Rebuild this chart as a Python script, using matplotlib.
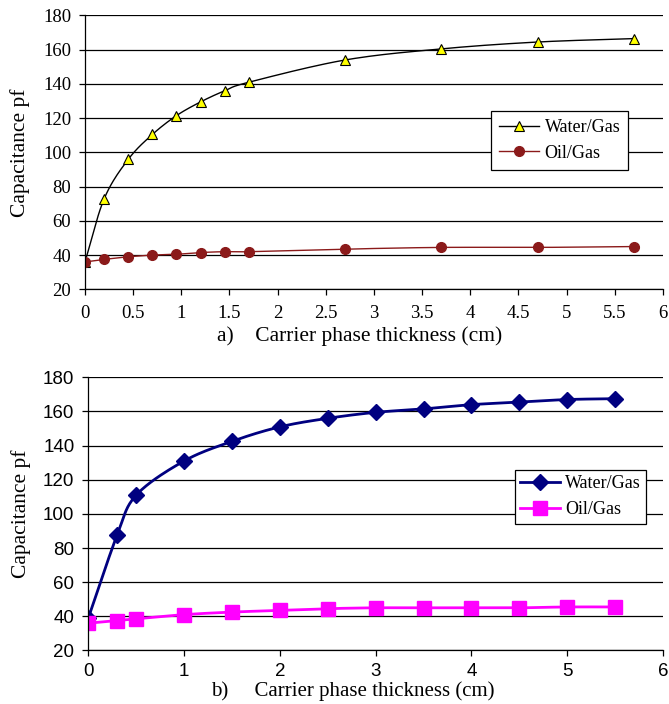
import matplotlib
matplotlib.use("Agg")
import matplotlib.pyplot as plt
import numpy as np

# (a) top panel
a_x = [0, 0.2, 0.45, 0.7, 0.95, 1.2, 1.45, 1.7, 2.7, 3.7, 4.7, 5.7]
a_water = [36, 73, 96, 110.5, 121.5, 129.5, 136, 141, 154, 160.5, 164.5, 166.5]
a_oil = [36, 37.5, 39, 40, 40.5, 41.5, 42, 42, 43.5, 44.5, 44.5, 45]

# (b) bottom panel
b_x = [0, 0.3, 0.5, 1, 1.5, 2, 2.5, 3, 3.5, 4, 4.5, 5, 5.5]
b_water = [39, 87.5, 111, 131, 142.5, 151, 156, 159.5, 161.5, 164, 165.5, 167, 167.5]
b_oil = [36, 37.5, 38.5, 41, 42.5, 43.5, 44.5, 45, 45, 45, 45, 45.5, 45.5]

a_ticks = ["0", "0.5", "1", "1.5", "2", "2.5", "3", "3.5", "4", "4.5", "5", "5.5", "6"]
b_ticks = ["0", "1", "2", "3", "4", "5", "6"]

SERIF = "Liberation Serif"
SANS = "Liberation Sans"


def smooth(x, y, n=20):
    """Catmull-Rom curve through the points, like Excel's smoothed line."""
    x = np.asarray(x, float)
    y = np.asarray(y, float)
    px = np.concatenate([[2 * x[0] - x[1]], x, [2 * x[-1] - x[-2]]])
    py = np.concatenate([[2 * y[0] - y[1]], y, [2 * y[-1] - y[-2]]])
    xs, ys = [], []
    t = np.linspace(0, 1, n, endpoint=False)
    for i in range(1, len(px) - 2):
        p0, p1, p2, p3 = (np.array([px[j], py[j]]) for j in range(i - 1, i + 3))
        for tt in t:
            pt = 0.5 * ((2 * p1) + (-p0 + p2) * tt + (2 * p0 - 5 * p1 + 4 * p2 - p3) * tt ** 2
                        + (-p0 + 3 * p1 - 3 * p2 + p3) * tt ** 3)
            xs.append(pt[0])
            ys.append(pt[1])
    xs.append(x[-1])
    ys.append(y[-1])
    return xs, ys


def style_axes(ax, xticks, ticklabels, tickfont, xpad=7):
    ax.set_xlim(0, 6)
    ax.set_ylim(20, 180)
    ax.set_yticks(range(20, 181, 20))
    ax.set_xticks(xticks)
    ax.set_xticklabels(ticklabels, fontsize=13.5, family=tickfont)
    for lab in ax.get_yticklabels():
        lab.set_family(tickfont)
        lab.set_fontsize(13.5)
    ax.grid(axis="y", color="black", lw=0.9)
    ax.set_axisbelow(True)
    for s in ("top", "right"):
        ax.spines[s].set_visible(False)
    ax.spines["left"].set_linewidth(0.9)
    ax.spines["bottom"].set_linewidth(0.9)
    ax.tick_params(axis="x", direction="out", length=4, width=0.9, pad=xpad)
    ax.tick_params(axis="y", direction="out", length=4, width=0.9, pad=6)
    ax.set_ylabel("Capacitance pf", family=SERIF, fontsize=15.5, labelpad=9)


fig = plt.figure(figsize=(6.69, 7.04), dpi=100)

ax1 = fig.add_axes([0.127, 0.589, 0.864, 0.389])
xs, ys = smooth(a_x, a_water)
ax1.plot(xs, ys, color="black", lw=1)
ax1.plot(a_x, a_water, ls="none", marker="^", ms=6.5, mfc="#ffff00", mec="black", mew=0.8)
xs, ys = smooth(a_x, a_oil)
ax1.plot(xs, ys, color="#8b1a1a", lw=1)
ax1.plot(a_x, a_oil, ls="none", marker="o", ms=7, mfc="#8b1a1a", mec="#8b1a1a")
h1 = ax1.plot([], [], color="black", lw=1, marker="^", ms=6.5, mfc="#ffff00", mec="black", mew=0.8)[0]
h2 = ax1.plot([], [], color="#8b1a1a", lw=1, marker="o", ms=7, mfc="#8b1a1a", mec="#8b1a1a")[0]
style_axes(ax1, np.arange(0, 6.01, 0.5), a_ticks, SERIF)
ax1.set_xlabel("a)    Carrier phase thickness (cm)", family=SERIF, fontsize=15.5)
ax1.xaxis.set_label_coords(0.476, -0.135)
leg = ax1.legend([h1, h2], ["Water/Gas", "Oil/Gas"], loc="upper left",
                 bbox_to_anchor=(0.703, 0.65), fancybox=False, framealpha=1,
                 edgecolor="black", prop={"family": SERIF, "size": 13},
                 handlelength=2.2, borderpad=0.45, labelspacing=0.45, borderaxespad=0,
                 handletextpad=0.3)
leg.get_frame().set_linewidth(0.9)

ax2 = fig.add_axes([0.132, 0.076, 0.859, 0.388])
xs, ys = smooth(b_x, b_water)
ax2.plot(xs, ys, color="#000080", lw=2)
ax2.plot(b_x, b_water, ls="none", marker="D", ms=8, mfc="#000080", mec="#000080")
xs, ys = smooth(b_x, b_oil)
ax2.plot(xs, ys, color="#ff00ff", lw=2)
ax2.plot(b_x, b_oil, ls="none", marker="s", ms=10, mfc="#ff00ff", mec="#ff00ff")
g1 = ax2.plot([], [], color="#000080", lw=2, marker="D", ms=8, mfc="#000080", mec="#000080")[0]
g2 = ax2.plot([], [], color="#ff00ff", lw=2, marker="s", ms=10, mfc="#ff00ff", mec="#ff00ff")[0]
style_axes(ax2, range(0, 7), b_ticks, SANS, xpad=5)
ax2.set_xlabel("b)     Carrier phase thickness (cm)", family=SERIF, fontsize=15)
ax2.xaxis.set_label_coords(0.461, -0.113)
leg2 = ax2.legend([g1, g2], ["Water/Gas", "Oil/Gas"], loc="upper left",
                  bbox_to_anchor=(0.742, 0.662), fancybox=False, framealpha=1,
                  edgecolor="black", prop={"family": SERIF, "size": 13},
                  handlelength=2.2, borderpad=0.3, labelspacing=0.5, borderaxespad=0,
                  handletextpad=0.3)
leg2.get_frame().set_linewidth(0.9)

fig.savefig("out.png", dpi=100)
